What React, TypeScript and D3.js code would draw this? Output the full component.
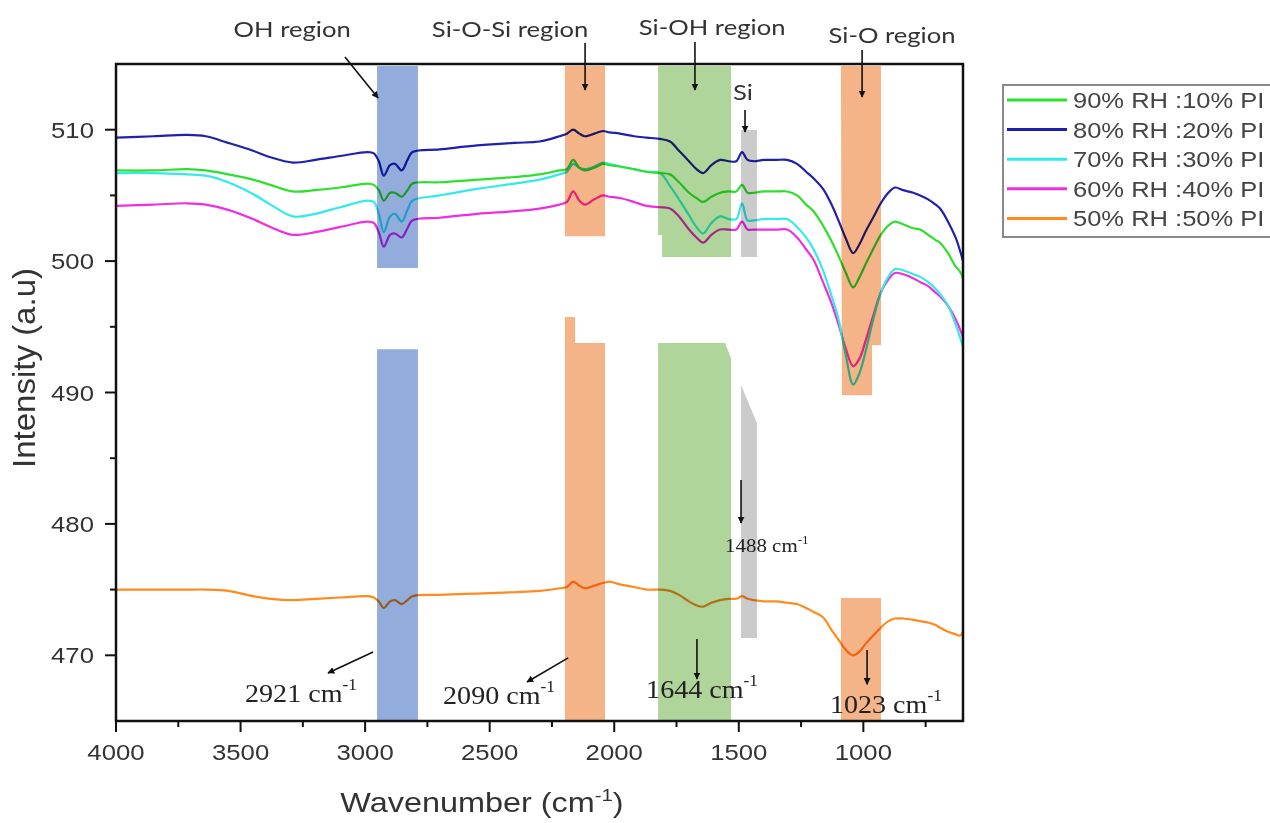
import React from "react";
import * as d3 from "d3";

// ---------- data ----------
const wavenumbers = [4000, 3850, 3715, 3640, 3550, 3450, 3380, 3290, 3200, 3100, 2990, 2965, 2945, 2925, 2900, 2880, 2853, 2830, 2810, 2700, 2550, 2400, 2300, 2220, 2190, 2165, 2140, 2117, 2080, 2045, 2020, 1977, 1920, 1870, 1816, 1776, 1740, 1700, 1670, 1643, 1610, 1575, 1540, 1510, 1487, 1465, 1440, 1400, 1350, 1306, 1266, 1230, 1200, 1162, 1130, 1100, 1070, 1041, 1015, 990, 961, 930, 900, 873, 840, 800, 772, 740, 710, 692, 660, 630, 612, 600];

const rh90 = [506.9, 506.9, 507.0, 506.9, 506.6, 506.2, 505.8, 505.3, 505.4, 505.6, 505.9, 505.8, 505.4, 504.6, 505.2, 505.2, 504.9, 505.4, 505.9, 506.0, 506.2, 506.4, 506.6, 506.9, 507.0, 507.7, 507.1, 506.9, 507.1, 507.4, 507.3, 507.2, 507.0, 506.8, 506.7, 506.6, 506.0, 505.2, 504.8, 504.5, 504.9, 505.2, 505.3, 505.3, 505.8, 505.2, 505.2, 505.3, 505.3, 505.3, 505.0, 504.3, 503.8, 502.7, 501.6, 500.4, 499.1, 498.0, 498.8, 499.8, 500.9, 502.0, 502.7, 503.0, 502.8, 502.5, 502.4, 502.0, 501.6, 501.4, 500.6, 499.6, 499.2, 498.7];

const rh80 = [509.4, 509.5, 509.6, 509.5, 509.0, 508.4, 507.9, 507.5, 507.7, 508.0, 508.3, 508.2, 507.6, 506.5, 507.3, 507.4, 506.9, 507.7, 508.3, 508.5, 508.8, 509.0, 509.1, 509.5, 509.7, 510.0, 509.7, 509.5, 509.7, 509.9, 509.8, 509.7, 509.5, 509.4, 509.3, 509.1, 508.4, 507.6, 507.0, 506.7, 507.3, 507.7, 507.6, 507.6, 508.3, 507.7, 507.6, 507.7, 507.7, 507.7, 507.4, 506.8, 506.3, 505.5, 504.4, 503.1, 501.7, 500.6, 501.3, 502.3, 503.3, 504.4, 505.2, 505.6, 505.4, 505.2, 505.0, 504.7, 504.3, 504.0, 503.0, 501.8, 500.8, 500.0];

const rh70 = [506.7, 506.7, 506.6, 506.5, 506.0, 505.1, 504.3, 503.4, 503.6, 504.1, 504.6, 504.5, 503.6, 502.2, 503.4, 503.6, 503.0, 503.9, 504.6, 505.0, 505.5, 505.9, 506.2, 506.6, 506.8, 507.4, 507.1, 507.0, 507.2, 507.5, 507.4, 507.2, 507.0, 506.8, 506.7, 505.7, 504.7, 503.5, 502.6, 502.1, 502.9, 503.4, 503.2, 503.2, 504.4, 503.1, 503.1, 503.2, 503.2, 503.2, 502.6, 501.8, 500.9, 499.3, 497.5, 495.6, 492.8, 490.6, 491.5, 493.2, 495.5, 497.6, 498.8, 499.4, 499.3, 499.0, 498.8, 498.4, 497.9, 497.5, 496.6, 495.2, 494.2, 493.5];

const rh60 = [504.2, 504.3, 504.4, 504.3, 503.9, 503.2, 502.6, 502.0, 502.2, 502.6, 503.0, 502.9, 502.2, 501.1, 502.0, 502.1, 501.8, 502.5, 503.1, 503.3, 503.6, 503.8, 504.0, 504.3, 504.5, 505.3, 504.6, 504.3, 504.7, 505.0, 504.9, 504.8, 504.5, 504.2, 504.1, 504.0, 503.4, 502.4, 501.8, 501.4, 502.0, 502.4, 502.4, 502.4, 503.0, 502.4, 502.4, 502.4, 502.4, 502.4, 501.8, 500.9, 500.1, 498.4, 496.9, 495.2, 493.3, 492.0, 492.6, 494.0, 495.8, 497.6, 498.6, 499.1, 499.0, 498.7, 498.4, 498.1, 497.6, 497.3, 496.6, 495.6, 494.8, 494.2];

const rh50 = [475.0, 475.0, 475.0, 475.0, 474.9, 474.5, 474.3, 474.2, 474.3, 474.4, 474.5, 474.4, 474.1, 473.6, 474.1, 474.2, 473.9, 474.2, 474.5, 474.6, 474.7, 474.8, 474.9, 475.1, 475.2, 475.6, 475.3, 475.1, 475.3, 475.5, 475.6, 475.4, 475.2, 475.0, 475.0, 474.9, 474.6, 474.1, 473.8, 473.7, 474.0, 474.2, 474.3, 474.3, 474.5, 474.3, 474.2, 474.1, 474.1, 474.0, 473.9, 473.6, 473.3, 472.9, 472.0, 471.2, 470.4, 470.0, 470.3, 470.9, 471.5, 472.1, 472.6, 472.8, 472.8, 472.7, 472.6, 472.5, 472.3, 472.1, 471.8, 471.6, 471.5, 471.8];

const seriesNames = ["90% RH :10% PI", "80% RH :20% PI", "70% RH :30% PI", "60% RH :40% PI", "50% RH :50% PI"];
const seriesValues = [rh90, rh80, rh70, rh60, rh50];
const seriesColors = ["#2ee02e", "#2020b0", "#33eaea", "#ee2ee0", "#ff8a1e"];
// drawing order (back to front)
const drawOrder = [4, 3, 2, 0, 1];

const xTicks = [4000, 3500, 3000, 2500, 2000, 1500, 1000];
const xMinorTicks = [3750, 3250, 2750, 2250, 1750, 1250, 750];
const yTicks = [470, 480, 490, 500, 510];
const yMinorTicks = [475, 485, 495, 505];

// shaded band outlines, [wavenumber, intensity] vertices
const bandOH = [[2952, 514.85], [2788, 514.85], [2788, 499.47], [2952, 499.47]];
const bandOHLow = [[2952, 493.3], [2788, 493.3], [2788, 465], [2952, 465]];
const bandSiOSi = [[2198, 514.85], [2037, 514.85], [2037, 501.9], [2198, 501.9]];
const bandSiOSiLow = [[2198, 495.75], [2157, 495.75], [2157, 493.77], [2037, 493.77], [2037, 465], [2198, 465]];
const bandSiOH = [[1824, 514.85], [1531, 514.85], [1531, 500.31], [1808, 500.31], [1808, 501.99], [1824, 501.99]];
const bandSiOHLow = [[1824, 493.77], [1555, 493.77], [1531, 492.6], [1531, 465], [1824, 465]];
const bandSi = [[1491, 509.98], [1427, 509.98], [1427, 500.31], [1491, 500.31]];
const bandSiLow = [[1491, 490.57], [1427, 487.68], [1427, 471.32], [1491, 471.32]];
const bandSiO = [[1090, 514.85], [929, 514.85], [929, 493.6], [965, 493.6], [965, 489.8], [1086, 489.8]];
const bandSiOLow = [[1090, 474.36], [929, 474.36], [929, 465], [1090, 465]];

const bands = [bandOH, bandOHLow, bandSiOSi, bandSiOSiLow, bandSiOH, bandSiOHLow, bandSi, bandSiLow, bandSiO, bandSiOLow];
const bandColors = ["#92acdc", "#92acdc", "#f5b487", "#f5b487", "#b0d59a", "#b0d59a", "#cbcbcb", "#cbcbcb", "#f5b487", "#f5b487"];

// annotation texts: [label, wavenumber, intensity]
const regionLabels = [
  ["OH region", 3293, 517.05],
  ["Si-O-Si region", 2418, 517.05],
  ["Si-OH region", 1607, 517.2],
  ["Si-O region", 885, 516.6],
  ["Si", 1483, 512.26],
];
const peakLabels = [
  ["2921", 3482, 466.45],
  ["2090", 2687, 466.3],
  ["1644", 1872, 466.75],
  ["1023", 1134, 465.6],
];
const smallPeakLabel = ["1488", 1555, 477.86];
// arrows: [w1, v1, w2, v2]
const arrows = [
  [3081, 515.53, 2948, 512.41],
  [2117, 516.6, 2117, 513.02],
  [1676, 516.67, 1676, 513.02],
  [1005, 516.07, 1005, 512.49],
  [1475, 511.5, 1475, 509.83],
  [1491, 483.34, 1491, 480.07],
  [2968, 470.25, 3149, 468.65],
  [2185, 469.8, 2350, 467.97],
  [1668, 471.24, 1668, 468.2],
  [985, 470.4, 985, 467.8],
];

// ---------- layout ----------
const W = 1270;
const H = 823;
const PL = 116, PR = 963, PT = 64, PB = 721;

const x = d3.scaleLinear().domain([4000, 600]).range([PL, PR]);
const y = d3.scaleLinear().domain([465, 515]).range([PB, PT]);

const SANS = "'Liberation Sans', Arial, sans-serif";
const SERIF = "'Liberation Serif', 'Times New Roman', serif";
const CAL = "Lato, 'Open Sans', sans-serif";

function T(props: any) {
  const { x: tx, y: ty, sx = 1, sy = 1, rot = 0, anchor = "start", size, family, fill = "#333", children, weight } = props;
  return (
    <text
      transform={`translate(${tx},${ty}) rotate(${rot}) scale(${sx},${sy})`}
      textAnchor={anchor}
      fontSize={size}
      fontFamily={family}
      fill={fill}
      fontWeight={weight}
    >
      {children}
    </text>
  );
}

export default function App() {
  const line = d3
    .line<number>()
    .x((_, i) => x(wavenumbers[i]))
    .y((d) => y(d))
    .curve(d3.curveCatmullRom.alpha(0.5));

  const poly = (pts: number[][]) => pts.map((p) => `${x(p[0])},${y(p[1])}`).join(" ");

  const legendY0 = 100;
  const legendStep = 29.6;

  return (
    <div style={{ position: "fixed", left: 0, top: 0, width: W, height: H, background: "#fff" }}>
      <svg width={W} height={H} viewBox={`0 0 ${W} ${H}`} style={{ display: "block" }}>
        <defs>
          <clipPath id="plotclip">
            <rect x={PL} y={PT} width={PR - PL} height={PB - PT} />
          </clipPath>
          <marker id="ah" viewBox="0 0 10 10" refX="9" refY="5" markerWidth="7" markerHeight="7" orient="auto-start-reverse" markerUnits="userSpaceOnUse">
            <path d="M0,0 L10,5 L0,10 z" fill="#111" />
          </marker>
        </defs>
        <rect x={0} y={0} width={W} height={H} fill="#fff" />

        {/* curves */}
        <g clipPath="url(#plotclip)">
          {drawOrder.map((si) => (
            <path key={si} d={line(seriesValues[si]) || ""} fill="none" stroke={seriesColors[si]} strokeWidth={2.2} strokeLinejoin="round" />
          ))}
        </g>

        {/* shaded bands */}
        <g style={{ mixBlendMode: "multiply" }}>
          {bands.map((b, i) => (
            <polygon key={i} points={poly(b)} fill={bandColors[i]} style={{ mixBlendMode: "multiply" }} />
          ))}
        </g>

        {/* frame */}
        <rect x={PL} y={PT} width={PR - PL} height={PB - PT} fill="none" stroke="#111" strokeWidth={2.5} />

        {/* x ticks */}
        {xTicks.map((t) => (
          <g key={"xt" + t}>
            <line x1={x(t)} x2={x(t)} y1={PB} y2={PB + 11} stroke="#111" strokeWidth={2} />
            <T x={x(t)} y={PB + 39} sx={1.12} anchor="middle" size={23} family={SANS} fill="#333">
              {t}
            </T>
          </g>
        ))}
        {xMinorTicks.map((t) => (
          <line key={"xm" + t} x1={x(t)} x2={x(t)} y1={PB} y2={PB + 6} stroke="#111" strokeWidth={2} />
        ))}

        {/* y ticks */}
        {yTicks.map((t) => (
          <g key={"yt" + t}>
            <line x1={PL} x2={PL - 11} y1={y(t)} y2={y(t)} stroke="#111" strokeWidth={2} />
            <T x={PL - 22} y={y(t) + 8} sx={1.12} anchor="end" size={23} family={SANS} fill="#333">
              {t}
            </T>
          </g>
        ))}
        {yMinorTicks.map((t) => (
          <line key={"ym" + t} x1={PL} x2={PL - 6} y1={y(t)} y2={y(t)} stroke="#111" strokeWidth={2} />
        ))}

        {/* axis titles */}
        <T x={482} y={812} sx={1.2} anchor="middle" size={27} family={SANS} fill="#333">
          Wavenumber (cm
          <tspan fontSize={17} dy={-11}>-1</tspan>
          <tspan dy={11}>)</tspan>
        </T>
        <T x={35} y={368} rot={-90} sx={1.18} sy={1.15} anchor="middle" size={28} family={SANS} fill="#333">
          Intensity (a.u)
        </T>

        {/* arrows */}
        {arrows.map((a, i) => (
          <line key={"ar" + i} x1={x(a[0])} y1={y(a[1])} x2={x(a[2])} y2={y(a[3])} stroke="#111" strokeWidth={1.6} markerEnd="url(#ah)" />
        ))}

        {/* region labels */}
        {regionLabels.map((r, i) => (
          <T key={"rl" + i} x={x(r[1] as number)} y={y(r[2] as number)} sx={1.22} anchor="middle" size={21} family={CAL} fill="#333">
            {r[0]}
          </T>
        ))}

        {/* peak labels */}
        {peakLabels.map((p, i) => (
          <T key={"pl" + i} x={x(p[1] as number)} y={y(p[2] as number)} sx={1.08} anchor="start" size={26} family={SERIF} fill="#222">
            {p[0]} cm
            <tspan fontSize={16} dy={-12}>-1</tspan>
          </T>
        ))}
        <T x={x(smallPeakLabel[1] as number)} y={y(smallPeakLabel[2] as number)} sx={1.1} anchor="start" size={19} family={SERIF} fill="#222">
          {smallPeakLabel[0]} cm
          <tspan fontSize={12} dy={-8}>-1</tspan>
        </T>

        {/* legend */}
        <rect x={1003} y={85} width={320} height={152} fill="#fff" stroke="#8a8a8a" strokeWidth={2} />
        {seriesNames.map((n, i) => {
          const ly = legendY0 + i * legendStep;
          return (
            <g key={"lg" + i}>
              <line x1={1007} x2={1067} y1={ly} y2={ly} stroke={seriesColors[i]} strokeWidth={3} />
              <T x={1073} y={ly + 8} sx={1.16} anchor="start" size={22} family={SANS} fill="#444">
                {n}
              </T>
            </g>
          );
        })}
      </svg>
    </div>
  );
}
